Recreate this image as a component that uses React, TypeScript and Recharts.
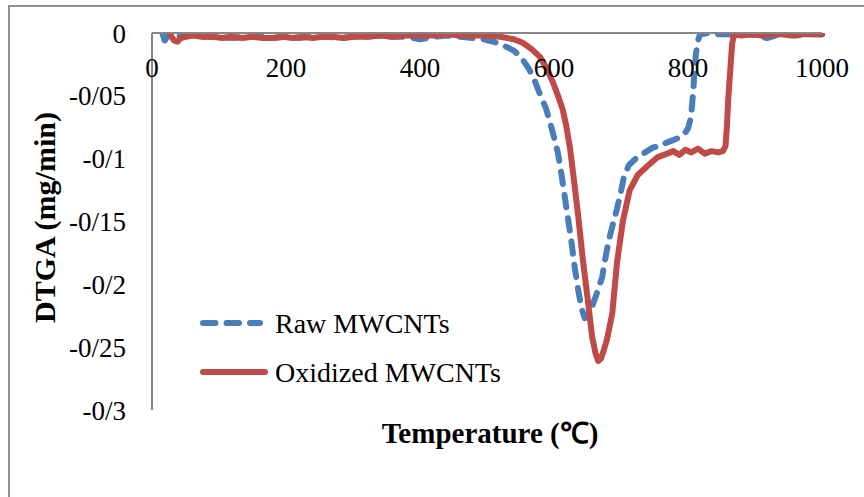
import React from "react";
import { LineChart, Line, XAxis, YAxis, Legend } from "recharts";

// ---- data ----
const X_TICKS = [0, 200, 400, 600, 800, 1000];
const Y_TICKS = [0, -0.05, -0.1, -0.15, -0.2, -0.25, -0.3];
const Y_TICK_LABELS = ["0", "-0/05", "-0/1", "-0/15", "-0/2", "-0/25", "-0/3"];

const RAW_NAME = "Raw MWCNTs";
const RAW_T = [
  16, 19, 23, 30, 45, 60, 80, 100, 120, 140, 160, 180, 200, 220, 240, 260, 280, 300, 320, 340,
  360, 380, 400, 420, 440, 460, 480, 495, 510, 525, 540, 552, 563, 572, 580, 588, 595, 601, 606,
  611, 616, 621, 626, 631, 636, 641, 646, 652, 658, 666, 672, 676, 681, 687, 694, 700, 705, 712,
  724, 736, 748, 758, 769, 779, 788, 795, 800, 804, 806, 808, 810, 812, 815, 818, 830, 845, 860,
  875, 890, 905, 918, 930, 945, 960, 975, 990, 1000,
];
const RAW_V = [
  -0.001, -0.006, -0.003, -0.002, -0.003, -0.002, -0.003, -0.003, -0.004, -0.003, -0.003, -0.004,
  -0.003, -0.004, -0.003, -0.003, -0.004, -0.003, -0.003, -0.002, -0.003, -0.003, -0.005, -0.003,
  -0.002, -0.003, -0.004, -0.005, -0.007, -0.01, -0.014, -0.02, -0.029, -0.039, -0.05, -0.06,
  -0.073, -0.085, -0.096, -0.112, -0.13, -0.148, -0.166, -0.187, -0.204, -0.219, -0.227, -0.223,
  -0.216, -0.204, -0.194, -0.181, -0.167, -0.154, -0.14, -0.126, -0.113, -0.105, -0.099, -0.095,
  -0.091, -0.09, -0.087, -0.085, -0.083, -0.08, -0.076, -0.068, -0.058, -0.045, -0.028, -0.016,
  -0.006, -0.001, 0, -0.001, -0.001, -0.002, -0.001, -0.002, -0.004, -0.002, -0.001, -0.002,
  -0.001, -0.001, -0.001,
];

const OX_NAME = "Oxidized MWCNTs";
const OX_T = [
  27, 33, 38, 43, 50, 60, 75, 90, 105, 120, 135, 150, 165, 180, 195, 210, 225, 240, 255, 270, 285,
  300, 320, 340, 360, 380, 400, 420, 440, 460, 480, 500, 520, 540, 554, 567, 579, 590, 599, 606,
  613, 618, 624, 630, 636, 643, 651, 657, 662, 666, 670, 674, 679, 687, 694, 703, 713, 725, 739,
  754, 769, 778, 787, 796, 805, 815, 825, 835, 845, 852, 856, 858, 860, 863, 866, 869, 880, 895,
  910, 925, 940, 955, 970, 985, 1000,
];
const OX_V = [
  -0.001, -0.006, -0.007, -0.004, -0.003, -0.002, -0.003, -0.003, -0.004, -0.003, -0.004, -0.003,
  -0.004, -0.004, -0.003, -0.004, -0.003, -0.004, -0.003, -0.003, -0.004, -0.003, -0.003, -0.002,
  -0.003, -0.002, -0.002, -0.002, -0.001, -0.002, -0.002, -0.002, -0.003, -0.005, -0.008, -0.013,
  -0.019, -0.029, -0.04, -0.05, -0.061, -0.073, -0.092, -0.118, -0.145, -0.18, -0.215, -0.242,
  -0.255, -0.261, -0.259, -0.253, -0.244, -0.223, -0.183, -0.149, -0.125, -0.113, -0.106, -0.099,
  -0.096, -0.094, -0.097, -0.093, -0.095, -0.092, -0.096, -0.094, -0.095, -0.094, -0.09, -0.075,
  -0.053, -0.03, -0.008, -0.001, -0.002, -0.001, -0.002, -0.001, -0.001, -0.002, -0.001, -0.001,
  -0.001,
];

const SERIES_ORDER = [RAW_NAME, OX_NAME];

const rawData = RAW_T.map((t, i) => ({ t, v: RAW_V[i] }));
const oxData = OX_T.map((t, i) => ({ t, v: OX_V[i] }));

// ---- styles ----
const FONT = "'Liberation Serif', 'Times New Roman', serif";
const AXIS_COLOR = "#868686";
const BLUE = "#4A7EBB";
const RED = "#BE4B48";
const LINE_W = 6;

const fmtY = (v: number) => {
  const i = Y_TICKS.findIndex((t) => Math.abs(t - v) < 1e-9);
  return i >= 0 ? Y_TICK_LABELS[i] : String(v);
};

const XTick = (props: any) => {
  const { x, y, payload } = props;
  return (
    <text x={x} y={y + 44} textAnchor="middle" fontFamily={FONT} fontSize={27} fill="#000">
      {payload.value}
    </text>
  );
};

const LegendContent = (props: any) => {
  const payload = [...(props.payload || [])].sort(
    (a: any, b: any) => SERIES_ORDER.indexOf(a.value) - SERIES_ORDER.indexOf(b.value)
  );
  return (
    <svg width={340} height={100} style={{ overflow: "visible", display: "block" }}>
      {payload.map((e: any, i: number) => {
        const cy = 23 + i * 49;
        const dash = e.payload?.strokeDasharray;
        return (
          <g key={i}>
            <line
              x1={13}
              x2={dash ? 70 : 75}
              y1={cy}
              y2={cy}
              stroke={e.color}
              strokeWidth={LINE_W}
              strokeLinecap="round"
              strokeDasharray={dash}
            />
            <text x={85} y={cy + 9.5} fontFamily={FONT} fontSize={28} fill="#000">
              {e.value}
            </text>
          </g>
        );
      })}
    </svg>
  );
};

const YTitle = (props: any) => {
  const vb = props.viewBox || { x: 0, y: 33, width: 152, height: 377 };
  const x = vb.x + 55;
  const y = vb.y + vb.height / 2 - 4;
  return (
    <text
      x={x}
      y={y}
      transform={`rotate(-90, ${x}, ${y})`}
      textAnchor="middle"
      fontFamily={FONT}
      fontSize={30}
      fontWeight="bold"
      fill="#000"
    >
      DTGA (mg/min)
    </text>
  );
};

const XTitle = (props: any) => {
  const vb = props.viewBox || { x: 152, y: 410, width: 670, height: 87 };
  const x = vb.x + vb.width / 2 + 3;
  const y = vb.y + 33;
  return (
    <text x={x} y={y} textAnchor="middle" fontFamily={FONT} fontSize={29} fontWeight="bold" fill="#000">
      Temperature (℃)
    </text>
  );
};

export default function App() {
  return (
    <div
      style={{
        position: "absolute",
        left: 0,
        top: 0,
        width: 864,
        height: 497,
        overflow: "hidden",
        background: "#fff",
      }}
    >
      <div
        style={{
          position: "absolute",
          left: 8,
          top: 5,
          width: 900,
          height: 600,
          border: "2px solid #8f8f8f",
          boxSizing: "border-box",
        }}
      />
      <div style={{ position: "absolute", left: 0, top: 0 }}>
        <LineChart width={864} height={497} margin={{ top: 0, right: 42, bottom: 0, left: 0 }}>
          <XAxis
            xAxisId="top"
            orientation="top"
            type="number"
            dataKey="t"
            domain={[0, 1000]}
            ticks={X_TICKS}
            height={33}
            axisLine={{ stroke: AXIS_COLOR, strokeWidth: 2 }}
            tickLine={false}
            tickSize={0}
            tickMargin={0}
            tick={<XTick />}
            interval={0}
          />
          <XAxis
            xAxisId="bottom"
            orientation="bottom"
            type="number"
            domain={[0, 1000]}
            height={87}
            axisLine={false}
            tickLine={false}
            tick={false}
            label={<XTitle />}
          />
          <YAxis
            type="number"
            domain={[-0.3, 0]}
            ticks={Y_TICKS}
            allowDataOverflow
            width={152}
            axisLine={{ stroke: AXIS_COLOR, strokeWidth: 2 }}
            tickLine={false}
            tickSize={0}
            tickMargin={26}
            tickFormatter={fmtY}
            tick={{ fontFamily: FONT, fontSize: 27, fill: "#000" }}
            interval={0}
            label={<YTitle />}
          />
          <Legend
            layout="vertical"
            align="center"
            verticalAlign="middle"
            wrapperStyle={{ left: 190, top: 300, width: 340, height: 100 }}
            content={<LegendContent />}
          />
          <Line
            xAxisId="top"
            data={rawData}
            dataKey="v"
            name={RAW_NAME}
            type="linear"
            stroke={BLUE}
            strokeWidth={LINE_W}
            strokeDasharray="12.5 11"
            strokeLinecap="round"
            strokeLinejoin="round"
            dot={false}
            activeDot={false}
            isAnimationActive={false}
          />
          <Line
            xAxisId="top"
            data={oxData}
            dataKey="v"
            name={OX_NAME}
            type="linear"
            stroke={RED}
            strokeWidth={LINE_W}
            strokeLinecap="round"
            strokeLinejoin="round"
            dot={false}
            activeDot={false}
            isAnimationActive={false}
          />
        </LineChart>
      </div>
    </div>
  );
}
